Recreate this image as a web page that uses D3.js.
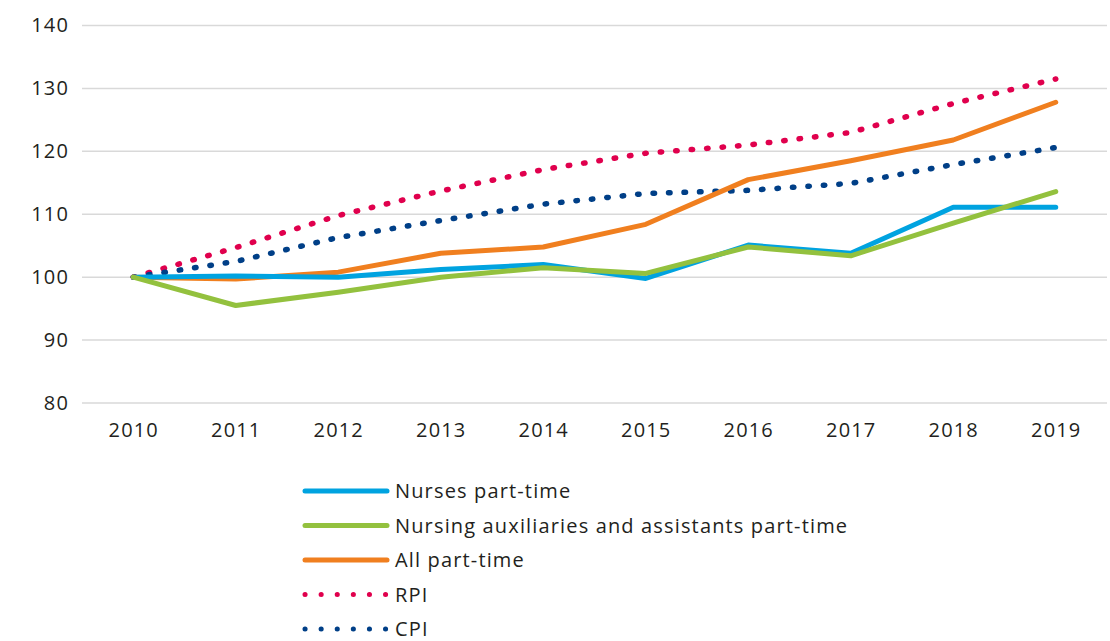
<!DOCTYPE html>
<html lang="en">
<head>
    <meta charset="UTF-8">
    <title>Part-time pay index</title>
    <script src="https://d3js.org/d3.v7.min.js"></script>
    <style>
        body{
            margin:0;
            background:#fff;
        }
        text{
            font-family: "Open Sans", sans-serif;
            fill:#231f20;
            letter-spacing:1.15px;
        }
        .grid line{
            stroke:#d9d9d9;
            stroke-width:1.5;
        }
    </style>
</head>
<body>
<script>
    const years = ["2010","2011","2012","2013","2014","2015","2016","2017","2018","2019"];
    const yTicks = [80, 90, 100, 110, 120, 130, 140];

    const nurses = [100, 100.2, 100, 101.2, 102, 99.8, 105.1, 103.8, 111.1, 111.1];
    const auxiliaries = [100, 95.5, 97.6, 100, 101.5, 100.6, 104.8, 103.4, 108.6, 113.6];
    const allPartTime = [100, 99.7, 100.8, 103.8, 104.8, 108.4, 115.5, 118.5, 121.8, 127.8];
    const rpi = [100, 104.7, 109.8, 113.7, 117.1, 119.7, 121, 123, 127.6, 131.5];
    const cpi = [100, 102.5, 106.3, 109, 111.6, 113.3, 113.8, 114.9, 117.9, 120.6];

    const series = [
        {name:"Nurses part-time", values:nurses, color:"#00a3e0", dotted:false},
        {name:"Nursing auxiliaries and assistants part-time", values:auxiliaries, color:"#93c13e", dotted:false},
        {name:"All part-time", values:allPartTime, color:"#f07f1f", dotted:false},
        {name:"RPI", values:rpi, color:"#e0004d", dotted:true},
        {name:"CPI", values:cpi, color:"#003f87", dotted:true}
    ];

    const width = 1110;
    const height = 641;

    const svg = d3.select("body").append("svg")
        .attr("width", width)
        .attr("height", height);

    const x = d3.scalePoint()
        .domain(years)
        .range([82, 1107])
        .padding(0.5);

    const y = d3.scaleLinear()
        .domain([80, 140])
        .range([403, 25.5]);

    // gridlines
    svg.append("g")
        .attr("class", "grid")
        .selectAll("line")
        .data(yTicks)
        .enter()
        .append("line")
        .attr("x1", 82)
        .attr("x2", 1107)
        .attr("y1", d => y(d))
        .attr("y2", d => y(d));

    // y axis labels
    const yAxis = svg.append("g")
        .attr("transform", "translate(82,0)")
        .call(d3.axisLeft(y).tickValues(yTicks).tickSize(0).tickPadding(13));
    yAxis.select(".domain").remove();
    yAxis.selectAll("text")
        .style("font-size", "20px")
        .attr("fill", "#231f20");

    // x axis labels
    const xAxis = svg.append("g")
        .attr("transform", "translate(0,420)")
        .call(d3.axisBottom(x).tickSize(0).tickPadding(3));
    xAxis.select(".domain").remove();
    xAxis.selectAll("text")
        .style("font-size", "20px")
        .attr("fill", "#231f20");

    const line = d3.line()
        .x((d, i) => x(years[i]))
        .y(d => y(d));

    // dotted first so solid ones sit on top
    const drawOrder = [series[3], series[4], series[2], series[0], series[1]];

    svg.append("g")
        .selectAll("path")
        .data(drawOrder)
        .enter()
        .append("path")
        .attr("d", d => line(d.values))
        .attr("fill", "none")
        .attr("stroke", d => d.color)
        .attr("stroke-width", d => d.dotted ? 5.5 : 5)
        .attr("stroke-linecap", "round")
        .attr("stroke-linejoin", "round")
        .attr("stroke-dasharray", d => d.dotted ? "1.5 14" : null);

    // legend
    const legend = svg.append("g")
        .selectAll("g")
        .data(series)
        .enter()
        .append("g")
        .attr("transform", (d, i) => `translate(305, ${491 + i * 34.5})`);

    legend.append("line")
        .attr("x1", 0)
        .attr("x2", 82)
        .attr("stroke", d => d.color)
        .attr("stroke-width", 5)
        .attr("stroke-linecap", "round")
        .attr("stroke-dasharray", d => d.dotted ? "0.1 16" : null);

    legend.append("text")
        .attr("x", 90)
        .attr("dy", "0.35em")
        .style("font-size", "20px")
        .text(d => d.name);
</script>
</body>
</html>
